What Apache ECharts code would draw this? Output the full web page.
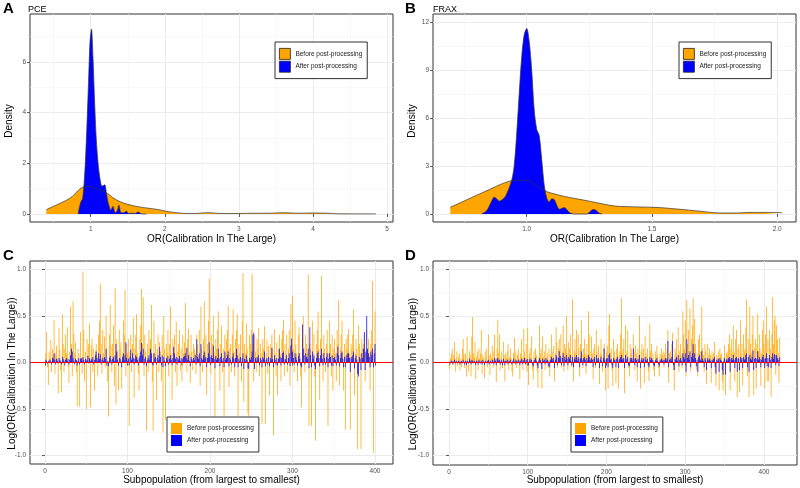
<!DOCTYPE html>
<html><head><meta charset="utf-8">
<script src="https://cdn.jsdelivr.net/npm/echarts@6/dist/echarts.min.js"></script>
<style>html,body{margin:0;padding:0;background:#fff}#c{width:800px;height:488px}</style>
</head><body><div id="c"></div>
<script>
// ---------- Panel A (PCE) densities ----------
const aBeforeX = [0.40,0.45,0.50,0.55,0.60,0.65,0.70,0.75,0.80,0.85,0.90,0.95,1.00,1.05,1.10,1.15,1.20,1.25,1.30,1.40,1.50,1.60,1.70,1.80,1.90,2.00,2.10,2.20,2.30,2.40,2.50,2.60,2.70,2.80,3.00,3.20,3.40,3.60,3.80,4.00,4.20,4.30,4.50,4.85];
const aBeforeY = [0.17,0.24,0.31,0.37,0.44,0.51,0.59,0.69,0.84,0.98,1.07,1.10,1.07,1.02,0.97,0.92,0.86,0.76,0.64,0.48,0.38,0.31,0.26,0.22,0.18,0.12,0.07,0.04,0.02,0.02,0.04,0.05,0.03,0.02,0.02,0.03,0.03,0.05,0.03,0.04,0.03,0.01,0.005,0.005];
const aAfterX = [0.83,0.85,0.87,0.89,0.91,0.93,0.95,0.97,0.99,1.01,1.03,1.05,1.07,1.09,1.11,1.13,1.15,1.17,1.19,1.21,1.23,1.25,1.27,1.30,1.33,1.36,1.38,1.41,1.45,1.48,1.51,1.55,1.60,1.64,1.68,1.75];
const aAfterY = [0.0,0.3,0.5,0.6,1.2,2.2,3.6,5.2,6.8,7.3,6.2,4.6,3.2,2.3,1.7,1.3,1.1,1.12,1.15,0.85,0.5,0.3,0.15,0.3,0.05,0.15,0.35,0.05,0.05,0.12,0.02,0.03,0.02,0.08,0.01,0.0];
// ---------- Panel B (FRAX) densities ----------
const bBeforeX = [0.695,0.75,0.80,0.85,0.90,0.95,1.00,1.05,1.08,1.10,1.15,1.20,1.25,1.30,1.35,1.40,1.45,1.50,1.55,1.60,1.65,1.70,1.75,1.80,1.85,1.90,1.95,2.02];
const bBeforeY = [0.42,0.81,1.17,1.52,1.88,2.10,2.10,1.70,1.40,1.30,1.10,0.95,0.80,0.64,0.50,0.46,0.44,0.42,0.38,0.31,0.24,0.16,0.08,0.06,0.07,0.10,0.10,0.08];
const bAfterX = [0.82,0.84,0.86,0.87,0.88,0.89,0.91,0.92,0.94,0.95,0.96,0.97,0.98,0.99,1.00,1.01,1.02,1.03,1.04,1.05,1.06,1.07,1.08,1.09,1.10,1.11,1.12,1.13,1.14,1.15,1.17,1.19,1.24,1.26,1.27,1.29,1.30];
const bAfterY = [0.0,0.2,0.8,1.05,0.95,0.8,1.0,1.25,2.1,3.0,5.0,7.5,9.8,11.2,11.6,10.8,9.0,6.5,5.3,4.9,3.4,1.8,1.0,0.75,0.95,0.9,0.55,0.3,0.35,0.4,0.1,0.0,0.0,0.25,0.28,0.05,0.0];
// ---------- Panel C (PCE subpopulations) ----------
const cBefore = [0.1,0.33,-0.05,-0.24,0.12,0.05,0.24,-0.1,0.15,0.08,
0.46,-0.12,0.1,0.18,0.05,-0.33,0.37,0.14,-0.08,-0.32,
0.52,0.2,-0.1,0.15,0.3,0.1,0.38,-0.05,-0.22,0.12,
0.6,0.2,-0.15,0.66,0.31,0.1,0.22,-0.1,-0.47,0.15,
0.1,-0.47,0.33,0.05,-0.12,0.98,0.35,-0.2,0.12,-0.5,
0.25,0.08,0.2,0.42,-0.48,0.18,0.25,-0.1,0.15,-0.3,
0.12,0.2,0.08,-0.15,0.3,0.45,0.85,0.2,-0.12,0.35,
0.1,0.28,-0.05,0.5,0.15,-0.2,-0.58,0.3,0.62,0.18,
-0.1,0.2,0.4,-0.25,0.8,-0.45,0.25,0.12,-0.3,0.35,
0.15,0.22,-0.28,0.1,0.45,0.3,0.78,-0.15,0.2,0.1,
0.25,-0.68,0.12,0.3,-0.1,0.2,0.48,-0.38,0.15,0.3,
0.52,0.1,-0.12,-0.3,0.25,0.4,0.79,0.2,0.7,-0.15,
0.3,0.12,-0.73,0.2,-0.1,0.35,0.15,0.25,0.62,-0.2,
-0.73,0.45,0.1,0.2,-0.4,0.15,0.3,-0.1,0.22,0.12,
-0.2,0.3,-0.75,0.5,0.15,-0.62,0.2,0.1,0.35,-0.15,
0.2,0.6,0.1,-0.4,0.25,0.15,0.3,-0.1,0.44,-0.25,
0.12,0.2,0.35,-0.08,0.15,-0.2,0.3,0.1,0.22,0.64,
0.15,-0.1,0.25,0.36,0.1,-0.22,0.3,0.12,-0.08,0.2,
0.15,0.1,-0.12,0.3,0.2,0.08,0.35,-0.25,0.6,0.15,
-0.1,0.25,0.66,0.1,0.3,-0.35,0.2,0.45,0.9,0.15,
-0.12,0.3,0.2,0.5,0.1,-0.62,0.25,0.15,0.35,0.55,
0.1,-0.3,0.2,0.4,-0.1,0.15,-0.58,0.3,0.1,0.25,
0.35,0.61,-0.26,0.15,0.2,-0.1,0.3,0.57,0.12,-0.15,
0.25,0.35,0.52,-0.58,0.2,0.1,0.3,-0.2,0.45,0.96,
-0.42,0.2,0.1,0.42,0.15,-0.55,-0.58,0.3,0.2,0.35,
0.95,0.2,-0.2,0.3,0.12,-0.1,0.25,0.15,0.37,-0.15,
0.2,0.1,-0.66,0.25,0.15,0.39,-0.66,0.1,0.24,-0.12,
0.18,-0.35,0.2,0.1,0.3,0.15,-0.78,0.36,0.1,-0.15,
0.22,-0.35,0.15,0.3,0.1,-0.2,0.25,0.35,0.46,-0.15,
0.2,0.1,0.3,-0.1,0.15,0.35,-0.25,0.63,0.2,0.72,
0.15,-0.1,0.45,0.2,0.1,-0.2,0.3,0.38,0.1,-0.15,
-0.48,0.25,0.5,0.15,-0.1,0.3,0.2,0.1,0.95,-0.68,
0.2,0.15,-0.68,0.45,0.1,0.3,-0.15,-0.84,0.2,0.35,
0.55,0.15,-0.4,0.25,0.93,0.1,-0.2,0.3,0.15,-0.1,
0.2,0.35,-0.68,0.1,0.45,0.2,-0.15,0.3,-0.3,0.15,
0.25,0.1,-0.2,0.35,0.2,0.67,-0.25,0.15,0.3,0.45,
0.1,-0.3,0.2,-0.72,0.25,0.15,0.3,0.36,0.1,-0.72,
0.2,0.15,0.3,0.57,-0.35,0.1,0.25,0.15,-0.93,0.4,
0.2,0.1,-0.93,0.25,0.15,0.2,0.3,-0.2,0.1,0.35,
0.15,0.25,0.1,-0.3,0.2,0.35,0.88,-0.97,0.15,0.55];
const cAfter = [0.03,0.02,-0.01,0.02,0.01,0.03,0.02,-0.02,0.05,0.04,
0.1,0.03,-0.02,0.04,0.02,-0.01,0.05,0.03,0.02,-0.02,
0.06,0.04,0.02,-0.03,0.03,0.05,0.02,0.04,-0.02,0.03,
0.08,0.15,0.12,0.05,0.02,-0.02,0.04,0.03,-0.03,0.02,
0.05,-0.02,0.04,0.05,0.02,0.06,0.03,-0.02,0.04,0.02,
0.03,0.07,-0.01,0.05,0.02,0.04,0.03,0.06,-0.02,0.03,
0.08,0.12,0.05,0.02,0.1,0.04,0.09,-0.02,0.03,0.05,
0.02,0.06,0.04,0.15,-0.03,0.02,-0.04,0.05,0.07,0.03,
-0.02,0.04,0.06,0.02,0.08,0.2,0.12,0.03,-0.03,0.05,
0.04,0.02,-0.05,0.06,0.1,0.03,0.08,0.22,0.05,0.02,
0.04,-0.03,0.06,0.14,0.03,0.1,0.05,-0.02,0.04,0.08,
0.06,0.03,-0.03,0.05,0.07,0.12,0.21,0.08,0.15,-0.02,
0.04,0.06,-0.04,0.03,0.05,0.08,0.03,0.15,0.1,-0.02,
-0.03,0.1,0.04,0.06,-0.02,0.05,0.08,0.03,0.17,0.06,
-0.03,0.08,-0.05,0.06,0.02,-0.04,0.05,0.03,0.07,-0.02,
0.04,0.08,0.03,-0.03,0.05,0.17,0.1,0.04,0.06,-0.02,
0.05,0.03,0.07,0.02,0.05,-0.03,0.04,0.06,0.07,0.1,
0.05,0.16,0.03,0.08,0.02,-0.04,0.06,0.04,0.02,0.05,
0.03,0.08,-0.02,0.25,0.06,0.04,0.1,-0.04,0.2,0.05,
0.03,0.08,0.12,0.04,0.06,-0.05,0.05,0.1,0.22,0.06,
-0.02,0.08,0.05,0.18,0.04,-0.06,0.07,0.03,0.05,0.15,
0.04,-0.04,0.06,0.1,0.02,0.05,-0.05,0.12,0.03,0.05,
0.08,0.12,-0.04,0.05,0.03,-0.02,0.06,0.1,0.04,-0.05,
0.05,0.15,0.08,-0.05,0.04,0.02,0.06,-0.04,0.05,0.1,
-0.07,0.04,0.02,0.08,0.03,-0.06,-0.07,0.05,0.03,0.06,
0.12,0.3,0.32,-0.07,0.05,0.02,0.06,0.04,0.08,-0.03,
0.05,0.03,-0.05,0.06,0.04,0.12,-0.04,0.03,0.05,-0.02,
0.06,-0.04,0.05,0.03,0.16,0.04,-0.05,0.08,0.03,-0.02,
0.05,-0.03,0.04,0.15,0.06,-0.03,0.05,0.1,0.12,-0.02,
0.04,0.03,0.08,-0.02,0.05,0.1,-0.04,0.18,0.26,0.12,
0.05,-0.02,0.1,0.06,0.03,-0.03,0.07,0.1,0.04,-0.03,
-0.05,0.41,0.15,0.08,-0.02,0.1,0.06,0.04,0.15,-0.06,
0.38,0.08,-0.05,0.12,0.04,0.08,-0.03,-0.07,0.05,0.1,
0.12,0.05,-0.04,0.08,0.15,0.04,-0.03,0.1,0.05,-0.02,
0.06,0.1,-0.05,0.04,0.1,0.06,-0.03,0.08,-0.04,0.05,
0.06,0.03,-0.03,0.1,0.17,0.08,-0.04,0.05,0.1,0.12,
0.04,-0.05,0.06,-0.05,0.08,0.04,0.1,0.1,0.05,-0.1,
0.06,0.04,0.08,0.12,-0.06,0.05,0.08,0.03,-0.12,-0.15,
0.06,0.04,-0.08,0.1,0.05,0.15,0.33,-0.08,0.12,0.5,
0.15,0.1,0.06,-0.05,0.12,0.08,0.15,-0.05,0.1,0.2];
// ---------- Panel D (FRAX subpopulations) ----------
const dBefore = [-0.07,0.05,0.1,0.15,-0.03,0.08,0.22,-0.1,0.05,0.12,
-0.04,0.06,0.1,-0.08,0.04,-0.05,0.15,0.25,0.08,-0.06,
0.1,-0.15,0.28,0.05,-0.1,0.12,0.08,-0.15,0.28,0.49,
0.1,0.05,0.22,-0.18,0.06,0.12,-0.08,0.15,0.04,0.1,
0.35,-0.12,0.08,0.05,-0.17,0.12,0.06,0.15,-0.05,0.3,
0.08,-0.13,0.1,0.05,0.18,-0.06,0.12,0.3,0.04,-0.21,
0.15,0.46,0.1,0.3,-0.08,0.05,0.12,-0.06,0.22,0.08,
-0.2,0.1,0.05,0.12,0.2,-0.08,0.06,0.15,0.04,-0.1,
-0.15,0.1,0.27,0.05,0.12,-0.06,0.08,0.15,0.04,-0.18,
0.1,0.25,0.06,-0.08,0.36,0.12,0.05,0.2,-0.1,0.37,
-0.24,0.1,0.15,0.05,0.28,-0.08,-0.18,0.12,0.06,0.15,
0.08,-0.1,-0.27,0.05,0.4,0.1,0.15,-0.28,0.28,0.06,
0.12,-0.08,0.2,0.05,0.1,-0.06,0.15,-0.15,0.08,0.3,
0.12,0.05,0.18,-0.2,0.1,0.38,0.22,-0.06,0.15,0.25,
0.08,0.3,-0.05,0.12,0.4,-0.1,0.2,0.15,0.5,0.1,
-0.08,0.22,0.15,0.3,0.08,-0.05,0.68,-0.2,0.12,0.25,
0.1,0.35,0.05,0.3,0.15,-0.15,0.2,0.45,0.08,-0.06,
0.15,0.25,0.1,-0.12,0.2,0.08,0.55,0.3,0.12,0.05,
0.28,0.1,-0.18,0.15,0.2,-0.06,0.35,0.12,0.05,0.18,
-0.23,0.1,0.25,0.08,-0.1,0.15,0.2,0.05,-0.3,0.12,
0.18,-0.28,0.4,0.52,0.1,0.15,-0.08,-0.25,0.25,0.12,
0.05,-0.22,0.15,0.2,-0.28,0.08,0.12,0.3,0.69,0.1,
0.15,0.25,-0.33,0.4,0.08,0.12,0.35,-0.06,-0.15,0.2,
0.1,0.15,0.05,0.3,0.12,-0.08,0.18,0.1,-0.2,0.15,
0.08,0.5,-0.28,0.12,0.2,0.05,0.15,-0.22,0.28,0.1,
0.06,0.15,-0.1,-0.2,0.42,0.12,0.2,0.05,0.1,-0.08,
-0.15,0.12,0.05,0.18,0.08,-0.06,-0.15,0.1,0.05,0.15,
0.08,0.12,-0.05,0.1,0.2,0.05,0.15,0.35,-0.22,0.1,
0.12,0.05,0.2,0.32,-0.08,-0.3,0.15,0.1,0.25,0.05,
0.38,-0.1,0.12,0.2,0.08,-0.06,0.55,0.3,0.15,0.45,
-0.15,0.67,0.2,0.35,0.1,0.58,-0.1,0.25,0.4,0.69,
0.15,0.47,0.2,-0.08,0.1,-0.15,0.25,0.3,0.12,0.05,
0.6,0.15,0.08,-0.1,0.2,0.12,-0.23,0.2,0.05,0.1,
0.15,0.08,-0.22,0.12,0.05,0.1,0.22,-0.1,-0.25,0.08,
0.05,0.12,-0.3,0.15,0.08,0.1,-0.2,-0.3,0.05,0.18,
-0.35,0.1,0.12,0.08,0.2,0.3,-0.3,0.15,0.25,0.1,
0.4,0.12,-0.2,0.25,0.35,-0.37,0.15,0.2,-0.32,0.45,
0.1,0.2,-0.25,0.3,0.12,0.15,0.38,0.68,-0.15,0.25,
-0.37,0.6,0.2,0.1,0.3,0.5,-0.35,0.15,0.25,-0.28,
0.2,0.52,0.12,0.3,0.15,-0.25,0.1,0.35,0.45,0.2,
-0.28,0.3,0.6,-0.2,0.25,-0.2,0.35,0.15,-0.37,0.3,
0.7,0.2,0.45,0.5,-0.13,0.4,0.25,0.1,-0.22,0.27];
const dAfter = [0.01,-0.01,0.02,0.01,-0.02,0.01,0.03,-0.01,0.02,0.01,
-0.01,0.02,0.01,-0.02,0.01,0.02,-0.01,0.03,0.01,-0.02,
0.02,-0.03,0.02,0.01,-0.01,0.04,0.02,-0.02,0.03,0.02,
-0.01,0.02,0.01,-0.03,0.02,0.01,-0.02,0.03,0.01,-0.01,
0.02,-0.02,0.03,0.01,-0.03,0.02,0.01,-0.01,0.02,0.03,
-0.02,0.01,0.02,-0.01,0.03,0.02,-0.02,0.05,0.02,-0.03,
0.04,0.05,0.02,0.03,-0.02,0.01,0.03,-0.03,0.04,0.02,
-0.03,0.02,0.01,0.03,-0.02,0.02,0.01,0.03,-0.01,-0.02,
0.02,0.04,0.01,-0.02,0.03,0.02,-0.01,0.03,0.02,-0.03,
0.02,0.04,-0.02,0.03,0.02,0.05,-0.02,0.03,0.01,0.04,
-0.03,0.02,0.04,0.01,0.03,-0.02,-0.04,0.03,0.02,0.05,
0.02,-0.03,-0.06,0.02,0.05,0.03,-0.02,-0.07,0.04,0.02,
0.03,-0.02,0.05,0.02,0.03,-0.04,0.02,-0.05,0.03,0.06,
0.04,0.02,0.05,-0.06,0.03,0.08,0.06,-0.03,0.05,0.12,
0.04,0.07,-0.03,0.05,0.1,-0.04,0.06,0.03,0.08,0.04,
-0.03,0.06,0.04,0.08,0.02,-0.03,0.06,-0.05,0.04,0.06,
0.03,0.08,0.02,0.06,0.04,-0.05,0.05,0.12,0.03,-0.03,
0.05,0.06,0.03,-0.04,0.05,0.02,0.08,0.06,0.03,0.02,
0.05,0.03,-0.05,0.04,0.06,-0.03,0.08,0.04,0.02,0.05,
-0.06,0.03,0.06,0.02,-0.04,0.05,0.15,0.03,-0.06,0.04,
0.05,-0.05,0.08,0.1,0.03,0.04,-0.03,-0.06,0.05,0.03,
0.02,-0.05,0.04,0.06,-0.06,0.03,0.04,0.06,0.08,0.03,
0.04,0.05,-0.06,0.08,0.02,0.04,0.06,-0.03,-0.04,0.05,
0.03,0.05,0.02,0.15,0.04,-0.03,0.05,0.03,-0.05,0.04,
0.02,0.08,-0.06,0.03,0.05,0.02,0.04,-0.05,0.06,0.03,
0.02,0.04,-0.03,-0.05,0.06,0.03,0.05,0.02,0.03,-0.03,
-0.04,0.03,0.02,0.05,0.02,-0.02,-0.04,0.03,0.02,0.04,
0.02,0.03,-0.02,0.03,0.05,0.02,0.04,0.23,-0.05,0.03,
0.04,0.02,0.06,0.23,-0.03,-0.08,0.04,0.03,0.06,0.02,
0.08,-0.04,0.03,0.05,0.02,-0.03,0.1,0.06,0.04,0.1,
-0.1,0.25,0.05,0.08,0.03,0.12,-0.05,0.06,0.1,0.2,
0.04,0.1,0.05,-0.04,0.03,-0.1,0.06,0.08,0.03,0.02,
0.12,0.04,0.02,-0.05,0.05,0.03,-0.08,0.05,0.02,0.03,
0.04,0.02,-0.06,0.03,0.02,0.04,0.06,-0.05,-0.12,0.03,
0.02,0.04,-0.1,0.05,0.03,0.02,-0.08,-0.13,0.02,0.05,
-0.13,0.03,0.04,0.02,0.05,0.06,-0.1,0.04,0.05,0.03,
0.08,0.03,-0.06,0.05,0.06,-0.1,0.04,0.05,-0.08,0.06,
0.03,0.05,-0.06,0.06,0.03,0.04,0.08,0.1,-0.05,0.06,
-0.1,0.08,0.04,0.03,0.06,0.13,-0.08,0.04,0.05,-0.06,
0.04,0.12,0.03,0.06,0.04,-0.05,0.03,0.06,0.08,0.04,
-0.06,0.05,0.1,-0.04,0.05,-0.05,0.08,0.03,-0.06,0.06,
0.1,0.04,0.09,0.08,-0.03,0.08,0.05,0.03,-0.04,0.06];
// ---------- tick labels ----------
const aXTicks = [1,2,3,4,5], aXMinor = [0.5,1.5,2.5,3.5,4.5];
const aYTicks = [0,2,4,6], aYMinor = [1,3,5,7];
const bXTicks = [1.0,1.5,2.0], bXMinor = [0.75,1.25,1.75];
const bYTicks = [0,3,6,9,12], bYMinor = [1.5,4.5,7.5,10.5];
const cdXTicks = [0,100,200,300,400], cdXMinor = [50,150,250,350];
const cdYTicks = [-1.0,-0.5,0.0,0.5,1.0], cdYMinor = [-0.75,-0.25,0.25,0.75];
const legendNames = ['Before post-processing','After post-processing'];

const ORANGE = '#FFA500', BLUE = '#0000FF';
const FONT = 'Liberation Sans, Arial, sans-serif';
const zip = (xs, ys) => xs.map((x, i) => [x, ys[i]]);
const idx = arr => arr.map((v, i) => [i + 1, v]);

function mainAxis(g, min, max, ticks, fmt, name, nameGap, pos, namePad) {
  return {
    type: 'value', gridIndex: g, min: min, max: max, position: pos,
    name: name, nameLocation: 'middle', nameGap: nameGap, nameMoveOverlap: false,
    nameTextStyle: { fontSize: 10, color: '#000', fontFamily: FONT, padding: namePad || 0 },
    axisLine: { show: false },
    axisTick: { show: true, length: 3, lineStyle: { color: '#333', width: 0.8 }, customValues: ticks },
    axisLabel: { customValues: ticks, formatter: fmt, fontSize: 6.5, color: '#4D4D4D', fontFamily: FONT, margin: 4 },
    splitLine: { show: true, lineStyle: { color: '#EBEBEB', width: 1 } }
  };
}
function minorAxis(g, min, max, ticks, pos) {
  return {
    type: 'value', gridIndex: g, min: min, max: max, position: pos,
    axisLine: { show: false },
    axisTick: { show: false, customValues: ticks },
    axisLabel: { show: false },
    splitLine: { show: true, lineStyle: { color: '#F3F3F3', width: 0.6 } }
  };
}
const fInt = v => String(Math.round(v));
const f1 = v => v.toFixed(1);

function densSeries(name, data, g, color) {
  return {
    name: name, type: 'line', xAxisIndex: g * 2, yAxisIndex: g * 2, data: data,
    smooth: 0.3, showSymbol: false, symbol: 'none',
    lineStyle: { color: '#333', width: 0.7 },
    itemStyle: { color: color },
    areaStyle: { color: color, opacity: 1 },
    silent: true
  };
}
function barSeries(name, data, g, color, withLine) {
  const s = {
    name: name, type: 'bar', xAxisIndex: g * 2, yAxisIndex: g * 2, data: data,
    barWidth: 0.74, barMinWidth: 0.1, barGap: '-100%',
    itemStyle: { color: color }, silent: true
  };
  if (withLine) {
    s.markLine = {
      silent: true, symbol: ['none', 'none'], label: { show: false },
      lineStyle: { color: '#FF0000', width: 1, type: 'solid' },
      emphasis: { disabled: true },
      data: [{ yAxis: 0 }]
    };
  }
  return s;
}
function legendAt(left, top, bordered, pad) {
  return {
    left: left, top: top, orient: 'vertical', icon: 'rect', selectedMode: false,
    itemWidth: 11, itemHeight: 11, itemGap: 1, padding: pad,
    borderColor: '#333', borderWidth: 1, backgroundColor: '#fff',
    textStyle: { fontSize: 6.5, color: '#1A1A1A', fontFamily: FONT },
    data: [
      { name: legendNames[0], itemStyle: { color: ORANGE, borderColor: bordered ? '#222' : ORANGE, borderWidth: bordered ? 0.8 : 0 } },
      { name: legendNames[1], itemStyle: { color: BLUE, borderColor: bordered ? '#222' : BLUE, borderWidth: bordered ? 0.8 : 0 } }
    ]
  };
}
const gridBase = { show: true, borderColor: '#333', borderWidth: 1, backgroundColor: '#fff' };

const option = {
  animation: false,
  textStyle: { fontFamily: FONT },
  title: [
    { text: 'A', left: 3, top: 1, padding: 0, textStyle: { fontSize: 15, fontWeight: 'bold', color: '#000', fontFamily: FONT } },
    { text: 'PCE', left: 28, top: 5, padding: 0, textStyle: { fontSize: 9, fontWeight: 'normal', color: '#000', fontFamily: FONT } },
    { text: 'B', left: 405, top: 1, padding: 0, textStyle: { fontSize: 15, fontWeight: 'bold', color: '#000', fontFamily: FONT } },
    { text: 'FRAX', left: 433, top: 5, padding: 0, textStyle: { fontSize: 9, fontWeight: 'normal', color: '#000', fontFamily: FONT } },
    { text: 'C', left: 3, top: 248, padding: 0, textStyle: { fontSize: 15, fontWeight: 'bold', color: '#000', fontFamily: FONT } },
    { text: 'D', left: 405, top: 248, padding: 0, textStyle: { fontSize: 15, fontWeight: 'bold', color: '#000', fontFamily: FONT } }
  ],
  grid: [
    Object.assign({ left: 30, top: 14, width: 363, height: 208 }, gridBase),
    Object.assign({ left: 433, top: 14, width: 363, height: 208 }, gridBase),
    Object.assign({ left: 30, top: 261, width: 363, height: 203 }, gridBase),
    Object.assign({ left: 433, top: 261, width: 364, height: 204 }, gridBase)
  ],
  xAxis: [
    mainAxis(0, 0.18, 5.08, aXTicks, fInt, 'OR(Calibration In The Large)', 12, 'bottom'),
    minorAxis(0, 0.18, 5.08, aXMinor, 'top'),
    mainAxis(1, 0.626, 2.075, bXTicks, f1, 'OR(Calibration In The Large)', 12, 'bottom'),
    minorAxis(1, 0.626, 2.075, bXMinor, 'top'),
    mainAxis(2, -18.2, 421.8, cdXTicks, fInt, 'Subpopulation (from largest to smallest)', 11, 'bottom'),
    minorAxis(2, -18.2, 421.8, cdXMinor, 'top'),
    mainAxis(3, -20.3, 441.9, cdXTicks, fInt, 'Subpopulation (from largest to smallest)', 10, 'bottom'),
    minorAxis(3, -20.3, 441.9, cdXMinor, 'top')
  ],
  yAxis: [
    mainAxis(0, -0.316, 7.895, aYTicks, fInt, 'Density', 16, 'left', [0, 6, 0, 0]),
    minorAxis(0, -0.316, 7.895, aYMinor, 'right'),
    mainAxis(1, -0.5, 12.5, bYTicks, fInt, 'Density', 16, 'left', [0, 6, 0, 0]),
    minorAxis(1, -0.5, 12.5, bYMinor, 'right'),
    mainAxis(2, -1.09, 1.092, cdYTicks, f1, 'Log(OR(Calibration In The Large))', 13, 'left', [0, 22, 0, 0]),
    minorAxis(2, -1.09, 1.092, cdYMinor, 'right'),
    mainAxis(3, -1.1, 1.09, cdYTicks, f1, 'Log(OR(Calibration In The Large))', 15, 'left', [0, 22, 0, 0]),
    minorAxis(3, -1.1, 1.09, cdYMinor, 'right')
  ],
  legend: [
    legendAt(275, 42, true, [6, 5, 6, 4]),
    legendAt(679, 42, true, [6, 5, 6, 4]),
    legendAt(167, 417, false, [6, 5, 6, 4]),
    legendAt(571, 417, false, [6, 5, 6, 4])
  ],
  series: [
    densSeries(legendNames[0], zip(aBeforeX, aBeforeY), 0, ORANGE),
    densSeries(legendNames[1], zip(aAfterX, aAfterY), 0, BLUE),
    densSeries(legendNames[0], zip(bBeforeX, bBeforeY), 1, ORANGE),
    densSeries(legendNames[1], zip(bAfterX, bAfterY), 1, BLUE),
    barSeries(legendNames[0], idx(cBefore), 2, ORANGE, false),
    barSeries(legendNames[1], idx(cAfter), 2, BLUE, true),
    barSeries(legendNames[0], idx(dBefore), 3, ORANGE, false),
    barSeries(legendNames[1], idx(dAfter), 3, BLUE, true)
  ]
};
const chart = echarts.init(document.getElementById('c'), null, { renderer: 'canvas' });
chart.setOption(option);
</script>
</body></html>
